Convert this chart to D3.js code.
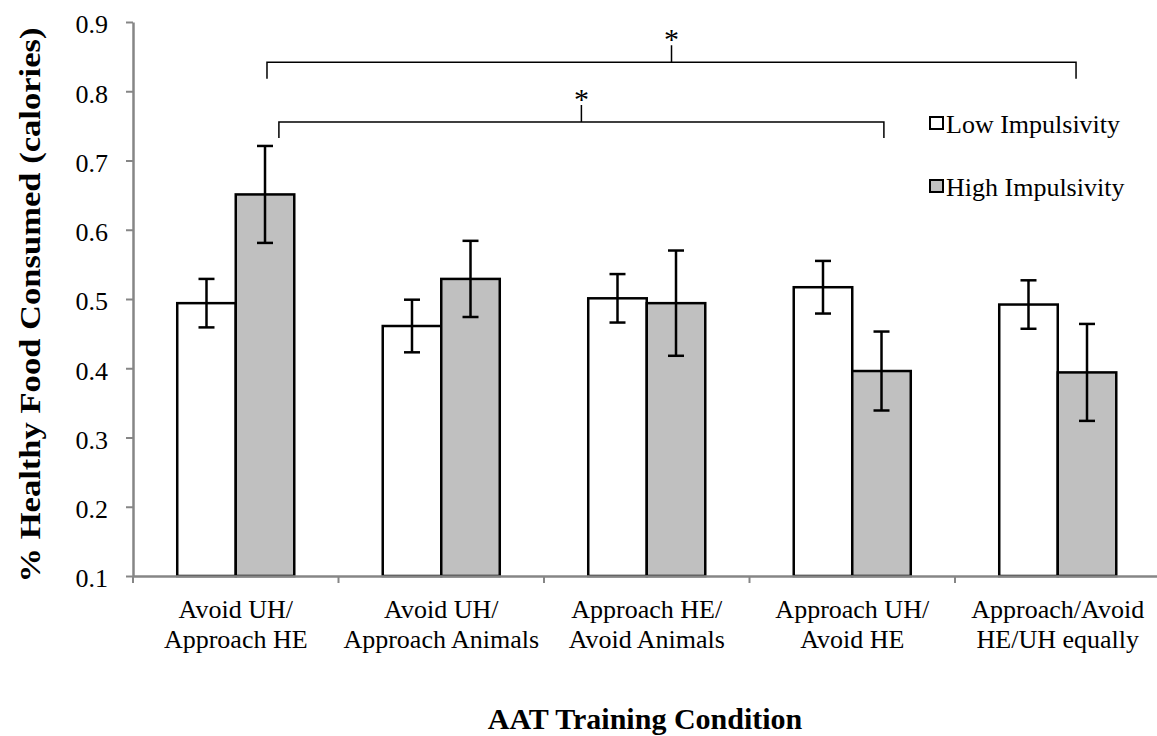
<!DOCTYPE html>
<html>
<head>
<meta charset="utf-8">
<script src="https://cdn.jsdelivr.net/npm/d3@7"></script>
<style>
  body { margin: 0; background: #fff; }
  svg { display: block; }
  text { font-family: "Liberation Serif", "Times New Roman", serif; fill: #000; }
</style>
</head>
<body>
<div id="chart"></div>
<script>
// data
const categories = [
    ["Avoid UH/", "Approach HE"],
    ["Avoid UH/", "Approach Animals"],
    ["Approach HE/", "Avoid Animals"],
    ["Approach UH/", "Avoid HE"],
    ["Approach/Avoid", "HE/UH equally"]
];
const seriesNames = ["Low Impulsivity", "High Impulsivity"];
const lowValues = [0.494, 0.461, 0.501, 0.517, 0.492];
const lowErrors = [0.035, 0.038, 0.035, 0.038, 0.035];
const highValues = [0.651, 0.529, 0.494, 0.396, 0.394];
const highErrors = [0.070, 0.055, 0.076, 0.057, 0.070];
const yTicks = [0.1, 0.2, 0.3, 0.4, 0.5, 0.6, 0.7, 0.8, 0.9];
// significance brackets: [category, fraction of band] for each end, y in data units
const brackets = [
    { start: [0, 0.652], end: [4, 0.589], y: 0.842, drop: 0.818, label: "*" },
    { start: [0, 0.71], end: [3, 0.654], y: 0.7556, drop: 0.7325, label: "*" }
];

const width = 1157, height = 736;
const fills = ["#ffffff", "#c0c0c0"];
const serif = '"Liberation Serif", "Times New Roman", serif';

const svg = d3.select('#chart')
    .append('svg')
    .attr('width', width)
    .attr('height', height);

const catIdx = categories.map((d, i) => i);
const x = d3.scaleBand().domain(catIdx).range([133, 1160.5]).padding(0);
const xs = d3.scaleBand().domain([0, 1]).range([0, x.bandwidth()])
    .paddingInner(0).paddingOuter(0.756);
const y = d3.scaleLinear().domain([0.1, 0.9]).range([576, 22]);

// y axis
const yAxis = svg.append('g')
    .attr('transform', 'translate(133,0)')
    .call(d3.axisLeft(y).tickValues(yTicks).tickFormat(d3.format('.1f')).tickSize(7).tickSizeOuter(0));
yAxis.select('.domain').attr('stroke', '#868686').attr('stroke-width', 2.5);
yAxis.selectAll('.tick line').attr('stroke', '#868686').attr('stroke-width', 2);
yAxis.selectAll('.tick text')
    .attr('x', -25)
    .attr('dy', '0.42em')
    .style('font-family', serif)
    .style('font-size', '26px')
    .attr('fill', '#000');

// bars
const rows = catIdx.flatMap(i => [
    { c: i, s: 0, v: lowValues[i], e: lowErrors[i] },
    { c: i, s: 1, v: highValues[i], e: highErrors[i] }
]);

svg.append('g').selectAll('rect')
    .data(rows)
    .join('rect')
    .attr('x', d => x(d.c) + xs(d.s))
    .attr('y', d => y(d.v))
    .attr('width', xs.bandwidth())
    .attr('height', d => y(0.1) - y(d.v))
    .attr('fill', d => fills[d.s])
    .attr('stroke', '#000')
    .attr('stroke-width', 2.5);

// error bars
const eb = svg.append('g').attr('stroke', '#000').attr('stroke-width', 2.5);
const cx = d => x(d.c) + xs(d.s) + xs.bandwidth() / 2;
eb.selectAll('line.v').data(rows).join('line').attr('class', 'v')
    .attr('x1', cx).attr('x2', cx)
    .attr('y1', d => y(d.v + d.e)).attr('y2', d => y(d.v - d.e));
eb.selectAll('line.t').data(rows).join('line').attr('class', 't')
    .attr('x1', d => cx(d) - 8).attr('x2', d => cx(d) + 8)
    .attr('y1', d => y(d.v + d.e)).attr('y2', d => y(d.v + d.e));
eb.selectAll('line.b').data(rows).join('line').attr('class', 'b')
    .attr('x1', d => cx(d) - 8).attr('x2', d => cx(d) + 8)
    .attr('y1', d => y(d.v - d.e)).attr('y2', d => y(d.v - d.e));

// x axis
const xAxis = svg.append('g')
    .attr('transform', 'translate(0,576)')
    .call(d3.axisBottom(x).tickFormat('').tickSize(0).tickSizeOuter(0));
xAxis.select('.domain').attr('stroke', '#868686').attr('stroke-width', 2.5);
xAxis.selectAll('.tick').remove();
// tick marks between categories
xAxis.selectAll('line.sep')
    .data(catIdx)
    .join('line')
    .attr('class', 'sep')
    .attr('x1', d => x(d)).attr('x2', d => x(d))
    .attr('y1', 0).attr('y2', 7)
    .attr('stroke', '#868686').attr('stroke-width', 2);

const labels = svg.append('g').selectAll('text')
    .data(categories)
    .join('text')
    .attr('text-anchor', 'middle')
    .style('font-family', serif)
    .style('font-size', '26px')
    .attr('transform', (d, i) => `translate(${x(i) + x.bandwidth() / 2},618)`);
labels.selectAll('tspan')
    .data(d => d)
    .join('tspan')
    .attr('x', 0)
    .attr('y', (d, i) => i * 30)
    .text(d => d);

// axis titles
svg.append('text')
    .attr('x', 645).attr('y', 729)
    .attr('text-anchor', 'middle')
    .style('font-family', serif)
    .style('font-size', '30px').style('font-weight', 'bold')
    .text('AAT Training Condition');

svg.append('text')
    .attr('transform', 'translate(40,305) rotate(-90)')
    .attr('text-anchor', 'middle')
    .attr('textLength', 555)
    .attr('lengthAdjust', 'spacingAndGlyphs')
    .style('font-family', serif)
    .style('font-size', '30px').style('font-weight', 'bold')
    .text('% Healthy Food Consumed (calories)');

// significance brackets
const bpos = p => x(p[0]) + p[1] * x.bandwidth();
const bg = svg.append('g').attr('fill', 'none').attr('stroke', '#000').attr('stroke-width', 1.5);
bg.selectAll('path')
    .data(brackets)
    .join('path')
    .attr('d', d => {
        const x0 = bpos(d.start), x1 = bpos(d.end), yy = y(d.y), yd = y(d.drop);
        const xm = (x0 + x1) / 2;
        return `M${x0},${yd}V${yy}H${x1}V${yd}M${xm},${yy}V${yy - 17}`;
    });
svg.append('g').selectAll('text')
    .data(brackets)
    .join('text')
    .attr('x', d => (bpos(d.start) + bpos(d.end)) / 2)
    .attr('y', d => y(d.y) - 13)
    .attr('text-anchor', 'middle')
    .style('font-family', serif)
    .style('font-size', '30px')
    .text(d => d.label);

// legend
const legend = svg.append('g').selectAll('g')
    .data(seriesNames)
    .join('g')
    .attr('transform', (d, i) => `translate(930,${117 + i * 63})`);
legend.append('rect')
    .attr('width', 13).attr('height', 12)
    .attr('fill', (d, i) => fills[i])
    .attr('stroke', '#000').attr('stroke-width', 2);
legend.append('text')
    .attr('x', 16).attr('y', 16)
    .style('font-family', serif)
    .style('font-size', '26px')
    .text(d => d);
</script>
</body>
</html>
